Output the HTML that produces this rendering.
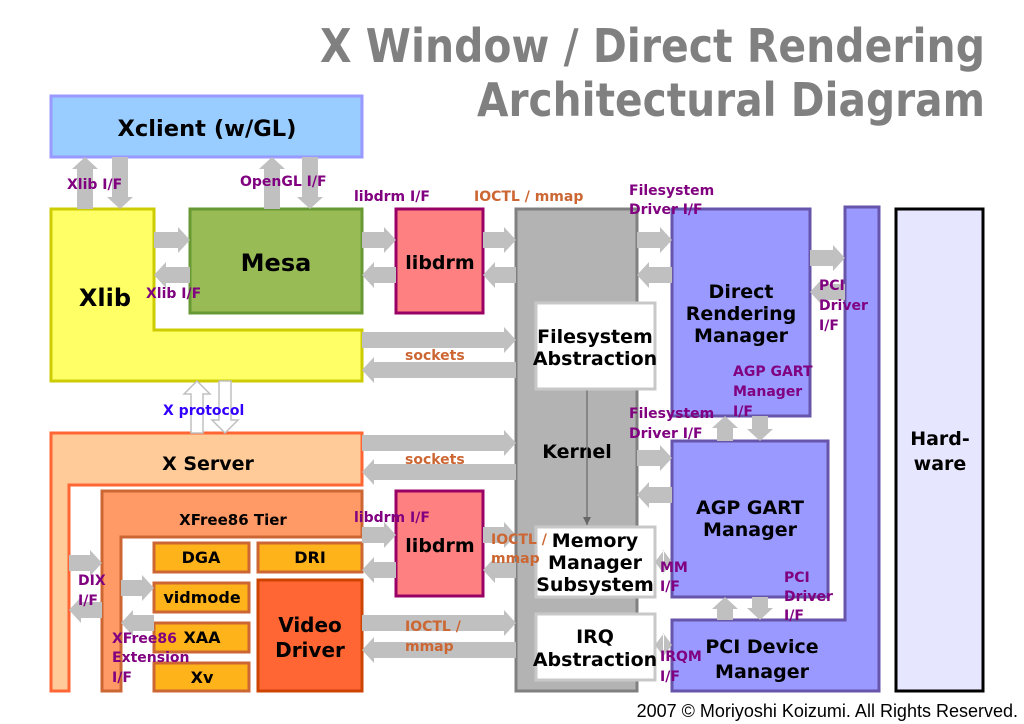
<!DOCTYPE html>
<html><head><meta charset="utf-8"><style>
html,body{margin:0;padding:0;background:#fff;}
svg{display:block;}
text{font-family:"DejaVu Sans","Liberation Sans",sans-serif;font-weight:bold;}
.p{fill:#800080;font-size:14px;}
.o{fill:#cc6633;font-size:14px;}
.b{fill:#000;text-anchor:middle;}
.a{stroke:#c0c0c0;stroke-width:16;marker-end:url(#h);}
</style></head><body>
<svg width="1024" height="724" viewBox="0 0 1024 724" xmlns="http://www.w3.org/2000/svg">
<defs>
<marker id="h" markerUnits="userSpaceOnUse" markerWidth="14" markerHeight="28" refX="0" refY="13" orient="auto"><path d="M0,0 L12,13 L0,26z" fill="#c0c0c0"/></marker>
<marker id="k" markerUnits="userSpaceOnUse" markerWidth="10" markerHeight="10" refX="8" refY="4" orient="auto"><path d="M0,0 L8,4 L0,8z" fill="#666"/></marker>
</defs>
<text x="985" y="62" font-size="46" fill="#808080" text-anchor="end" textLength="665" lengthAdjust="spacingAndGlyphs">X Window / Direct Rendering</text>
<text x="985" y="116" font-size="46" fill="#808080" text-anchor="end" textLength="508" lengthAdjust="spacingAndGlyphs">Architectural Diagram</text>

<rect x="51" y="96" width="311" height="61" fill="#99ccff" stroke="#9999ff" stroke-width="3"/>
<text class="b" x="207" y="136" font-size="22" textLength="179" lengthAdjust="spacingAndGlyphs">Xclient (w/GL)</text>

<path d="M51,209 L154,209 L154,330 L362,330 L362,381 L51,381z" fill="#ffff66" stroke="#cccc00" stroke-width="3"/>
<text class="b" x="105" y="306" font-size="24">Xlib</text>
<rect x="190" y="209" width="172" height="104" fill="#99bb55" stroke="#669933" stroke-width="3"/>
<text class="b" x="276" y="271" font-size="24">Mesa</text>
<rect x="396" y="209" width="87" height="104" fill="#ff8080" stroke="#990066" stroke-width="3"/>
<text class="b" x="440" y="269" font-size="19">libdrm</text>

<rect x="516" y="209" width="121" height="482" fill="#b3b3b3" stroke="#808080" stroke-width="3"/>
<text class="b" x="577" y="458" font-size="19">Kernel</text>
<line x1="587" y1="389" x2="587" y2="525" stroke="#777" stroke-width="1.5" marker-end="url(#k)"/>
<rect x="536" y="303" width="119" height="86" fill="#fff" stroke="#c8c8c8" stroke-width="3"/>
<text class="b" x="595" y="343" font-size="19">Filesystem</text>
<text class="b" x="595" y="365" font-size="19">Abstraction</text>
<rect x="536" y="527" width="119" height="70" fill="#fff" stroke="#c8c8c8" stroke-width="3"/>
<text class="b" x="595" y="547" font-size="19">Memory</text>
<text class="b" x="595" y="569" font-size="19">Manager</text>
<text class="b" x="595" y="591" font-size="19">Subsystem</text>
<rect x="536" y="614" width="119" height="66" fill="#fff" stroke="#c8c8c8" stroke-width="3"/>
<text class="b" x="595" y="643" font-size="19">IRQ</text>
<text class="b" x="595" y="666" font-size="19">Abstraction</text>

<rect x="672" y="209" width="138" height="207" fill="#9999ff" stroke="#6655aa" stroke-width="3"/>
<text class="b" x="741" y="298" font-size="19">Direct</text>
<text class="b" x="741" y="320" font-size="19">Rendering</text>
<text class="b" x="741" y="342" font-size="19">Manager</text>
<path d="M845,207 L879,207 L879,691 L672,691 L672,620 L845,620z" fill="#9999ff" stroke="#6655aa" stroke-width="3"/>
<text class="b" x="762" y="653" font-size="19">PCI Device</text>
<text class="b" x="762" y="678" font-size="19">Manager</text>
<rect x="672" y="441" width="156" height="156" fill="#9999ff" stroke="#6655aa" stroke-width="3"/>
<text class="b" x="750" y="514" font-size="19">AGP GART</text>
<text class="b" x="750" y="536" font-size="19">Manager</text>
<rect x="896" y="209" width="87" height="482" fill="#e6e6ff" stroke="#000" stroke-width="3"/>
<text class="b" x="940" y="445" font-size="19">Hard-</text>
<text class="b" x="940" y="470" font-size="19">ware</text>

<path d="M51,433 L362,433 L362,485 L69,485 L69,691 L51,691z" fill="#ffcc99" stroke="#ff6633" stroke-width="3"/>
<text class="b" x="208" y="470" font-size="19">X Server</text>
<path d="M102,491 L362,491 L362,537 L121,537 L121,691 L102,691z" fill="#ff9966" stroke="#cc6633" stroke-width="3"/>
<text class="b" x="233" y="525" font-size="15">XFree86 Tier</text>
<g fill="#ffb31a" stroke="#cc6633" stroke-width="3">
<rect x="154" y="543" width="95" height="29"/>
<rect x="258" y="543" width="104" height="29"/>
<rect x="154" y="583" width="95" height="29"/>
<rect x="154" y="623" width="95" height="29"/>
<rect x="154" y="663" width="95" height="28"/>
</g>
<text class="b" x="201" y="563" font-size="16">DGA</text>
<text class="b" x="310" y="563" font-size="16">DRI</text>
<text class="b" x="202" y="603" font-size="16">vidmode</text>
<text class="b" x="202" y="643" font-size="16">XAA</text>
<text class="b" x="202" y="683" font-size="16">Xv</text>
<rect x="258" y="580" width="104" height="111" fill="#ff6633" stroke="#cc4400" stroke-width="3"/>
<text class="b" x="310" y="632" font-size="20">Video</text>
<text class="b" x="310" y="657" font-size="20">Driver</text>
<rect x="396" y="491" width="87" height="105" fill="#ff8080" stroke="#990066" stroke-width="3"/>
<text class="b" x="440" y="552" font-size="19">libdrm</text>

<g>
<line class="a" x1="85" y1="209" x2="85" y2="169"/>
<line class="a" x1="120" y1="157" x2="120" y2="197"/>
<line class="a" x1="272" y1="209" x2="272" y2="169"/>
<line class="a" x1="310" y1="157" x2="310" y2="197"/>
<line class="a" x1="154" y1="240" x2="178" y2="240"/>
<line class="a" x1="362" y1="240" x2="384" y2="240"/>
<line class="a" x1="483" y1="240" x2="504" y2="240"/>
<line class="a" x1="637" y1="240" x2="660" y2="240"/>
<line class="a" x1="190" y1="275" x2="166" y2="275"/>
<line class="a" x1="396" y1="275" x2="374" y2="275"/>
<line class="a" x1="516" y1="275" x2="495" y2="275"/>
<line class="a" x1="672" y1="275" x2="649" y2="275"/>
<line class="a" x1="810" y1="258" x2="833" y2="258"/>
<line class="a" x1="845" y1="292" x2="822" y2="292"/>
<line class="a" x1="362" y1="340" x2="504" y2="340"/>
<line class="a" x1="516" y1="370" x2="374" y2="370"/>
<line class="a" x1="362" y1="443" x2="504" y2="443"/>
<line class="a" x1="516" y1="472" x2="374" y2="472"/>
<line class="a" x1="637" y1="458" x2="660" y2="458"/>
<line class="a" x1="672" y1="495" x2="649" y2="495"/>
<line class="a" x1="362" y1="535" x2="384" y2="535"/>
<line class="a" x1="483" y1="535" x2="504" y2="535"/>
<line class="a" x1="396" y1="570" x2="374" y2="570"/>
<line class="a" x1="516" y1="570" x2="495" y2="570"/>
<line class="a" x1="362" y1="623" x2="504" y2="623"/>
<line class="a" x1="516" y1="650" x2="374" y2="650"/>
<line class="a" x1="69" y1="563" x2="90" y2="563"/>
<line class="a" x1="102" y1="610" x2="81" y2="610"/>
<line class="a" x1="121" y1="588" x2="142" y2="588"/>
<line class="a" x1="154" y1="623" x2="133" y2="623"/>
<line class="a" x1="725" y1="441" x2="725" y2="428"/>
<line class="a" x1="760" y1="416" x2="760" y2="429"/>
<line class="a" x1="725" y1="620" x2="725" y2="609"/>
<line class="a" x1="760" y1="597" x2="760" y2="608"/>
</g>
<path d="M655,562 L664,550 L664,574z M672,562 L663,550 L663,574z" fill="#c0c0c0"/>
<path d="M655,645 L664,633 L664,657z M672,645 L663,633 L663,657z" fill="#c0c0c0"/>
<path d="M197,381 L210,394 L203,394 L203,433 L191,433 L191,394 L184,394z" fill="#fff" stroke="#c0c0c0" stroke-width="1.5"/>
<path d="M225,433 L238,420 L231,420 L231,381 L219,381 L219,420 L212,420z" fill="#fff" stroke="#c0c0c0" stroke-width="1.5"/>

<text class="p" x="67" y="189">Xlib I/F</text>
<text class="p" x="240" y="186">OpenGL I/F</text>
<text class="p" x="354" y="201">libdrm I/F</text>
<text class="o" x="474" y="201">IOCTL / mmap</text>
<text class="p" x="629" y="195">Filesystem</text>
<text class="p" x="629" y="214">Driver I/F</text>
<text class="p" x="146" y="298">Xlib I/F</text>
<text class="p" x="819" y="290">PCI</text>
<text class="p" x="819" y="310">Driver</text>
<text class="p" x="819" y="330">I/F</text>
<text class="o" x="405" y="360">sockets</text>
<text class="p" x="733" y="376">AGP GART</text>
<text class="p" x="733" y="396">Manager</text>
<text class="p" x="733" y="416">I/F</text>
<text class="p" x="629" y="418">Filesystem</text>
<text class="p" x="629" y="438">Driver I/F</text>
<text x="163" y="415" font-size="14" fill="#3300ff">X protocol</text>
<text class="o" x="405" y="464">sockets</text>
<text class="p" x="354" y="522">libdrm I/F</text>
<text class="o" x="491" y="544">IOCTL /</text>
<text class="o" x="491" y="563">mmap</text>
<text class="p" x="78" y="585">DIX</text>
<text class="p" x="78" y="605">I/F</text>
<text class="p" x="660" y="572">MM</text>
<text class="p" x="660" y="591">I/F</text>
<text class="p" x="784" y="582">PCI</text>
<text class="p" x="784" y="601">Driver</text>
<text class="p" x="784" y="620">I/F</text>
<text class="o" x="405" y="631">IOCTL /</text>
<text class="o" x="405" y="651">mmap</text>
<text class="p" x="112" y="643">XFree86</text>
<text class="p" x="112" y="662">Extension</text>
<text class="p" x="112" y="682">I/F</text>
<text class="p" x="660" y="661">IRQM</text>
<text class="p" x="660" y="681">I/F</text>
<text x="1018" y="717" font-size="18" text-anchor="end" style="font-family:'Liberation Sans',sans-serif;font-weight:normal" fill="#000">2007 © Moriyoshi Koizumi. All Rights Reserved.</text>
</svg>
</body></html>
